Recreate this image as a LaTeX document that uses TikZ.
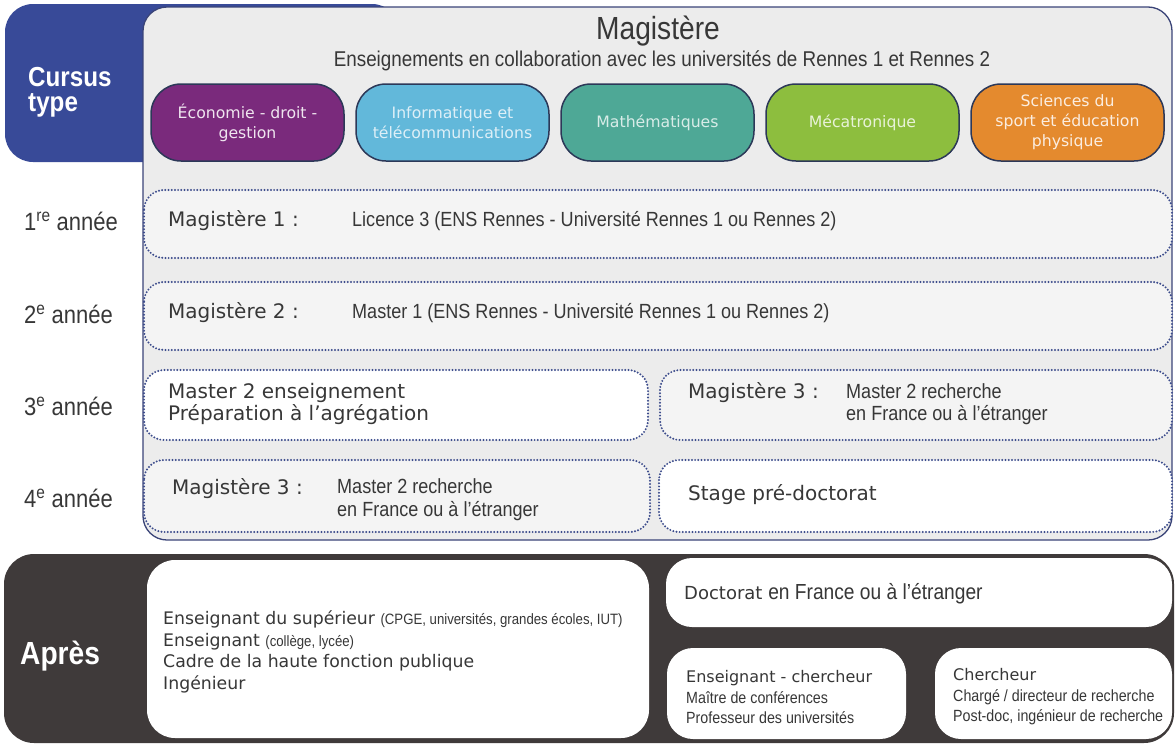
\documentclass[tikz,border=0pt]{standalone}
\usepackage{fontspec}
\setmainfont{DejaVu Sans}
\newfontfamily\condf[FakeStretch=0.88]{Liberation Sans}
\definecolor{cblue}{RGB}{56,74,152}
\definecolor{cnavy}{RGB}{58,68,120}
\definecolor{cgray}{RGB}{236,236,236}
\definecolor{crow}{RGB}{244,244,244}
\definecolor{cdot}{RGB}{60,76,140}
\definecolor{cpillb}{RGB}{44,56,88}
\definecolor{cpurple}{RGB}{122,42,124}
\definecolor{clblue}{RGB}{98,184,218}
\definecolor{cteal}{RGB}{78,168,150}
\definecolor{clime}{RGB}{141,190,62}
\definecolor{corange}{RGB}{228,138,46}
\definecolor{cdark}{RGB}{63,58,58}
\definecolor{ctext}{RGB}{55,55,55}
\tikzset{
  pill/.style={draw=cpillb, line width=1.5pt, rounded corners=30, minimum width=193, minimum height=77, align=center, inner sep=0pt, font=\fontsize{15.7}{20}\selectfont},
  dotbox/.style={draw=cdot, line width=2.2pt, dash pattern=on 0pt off 3.2pt, line cap=round, rounded corners=20},
  txt/.style={anchor=west, inner sep=0pt, text=ctext},
  yearlab/.style={txt, font=\condf\fontsize{25}{26}\selectfont},
  maglab/.style={txt, font=\fontsize{20}{22}\selectfont},
  condtxt/.style={txt, font=\condf\fontsize{20.5}{23}\selectfont, align=left},
  wbox/.style={fill=white, rounded corners=28},
}
\begin{document}
\begin{tikzpicture}[x=1pt,y=-1pt]
\useasboundingbox (0,0) rectangle (1175,744);
% blue tab
\fill[cblue, rounded corners=28] (5,4) rectangle (400,162);
\node[txt, text=white, align=left, font=\condf\bfseries\fontsize{27.5}{25}\selectfont] (cursus) at (28,92) {Cursus\\type};
% magistere box
\path[draw=cnavy, line width=1.3pt, fill=cgray, rounded corners=24] (143,7) rectangle (1172,540);
\node[text=ctext, inner sep=0pt, font=\condf\fontsize{32}{32}\selectfont] (title) at (658,31) {Magistère};
\node[text=ctext, inner sep=0pt, font=\condf\fontsize{21.4}{22}\selectfont] (subtitle) at (662,61) {Enseignements en collaboration avec les universités de Rennes 1 et Rennes 2};
% pills
\node[pill, fill=cpurple, text=white!88!cpurple] (eco) at (247.5,122.5) {Économie - droit -\\gestion};
\node[pill, fill=clblue, text=white!78!clblue] (info) at (452.5,122.5) {Informatique et\\télécommunications};
\node[pill, fill=cteal, text=white!78!cteal] (math) at (657.5,122.5) {Mathématiques};
\node[pill, fill=clime, text=white!80!clime] (meca) at (862.5,122.5) {Mécatronique};
\node[pill, fill=corange, text=white!85!corange] (sport) at (1067.5,122.5) {Sciences du\\sport et éducation\\physique};
% rows
\path[dotbox, fill=crow] (144,190) rectangle (1172,258);
\node[maglab] (m1) at (168,221) {Magistère 1 :};
\node[condtxt] (l1) at (352,221) {Licence 3 (ENS Rennes - Université Rennes 1 ou Rennes 2)};
\path[dotbox, fill=crow] (144,282) rectangle (1172,350);
\node[maglab] (m2) at (168,313) {Magistère 2 :};
\node[condtxt] (l2) at (352,313) {Master 1 (ENS Rennes - Université Rennes 1 ou Rennes 2)};
\path[dotbox, fill=white] (144,370) rectangle (648,440);
\node[maglab, align=left] (m2e) at (168,404) {Master 2 enseignement\\Préparation à l’agrégation};
\path[dotbox, fill=crow] (660,370) rectangle (1172,440);
\node[maglab] (m3a) at (688,393) {Magistère 3 :};
\node[condtxt, font=\condf\fontsize{20.5}{22}\selectfont] (l3a) at (846,404) {Master 2 recherche\\en France ou à l’étranger};
\path[dotbox, fill=crow] (144,460) rectangle (650,532);
\node[maglab] (m3b) at (172,489) {Magistère 3 :};
\node[condtxt] (l3b) at (337,500) {Master 2 recherche\\en France ou à l’étranger};
\path[dotbox, fill=white] (659,460) rectangle (1172,532);
\node[maglab] (stage) at (688,495) {Stage pré-doctorat};
% year labels
\node[yearlab] (y1) at (24,221) {1\textsuperscript{re} année};
\node[yearlab] (y2) at (24,314) {2\textsuperscript{e} année};
\node[yearlab] (y3) at (24,406) {3\textsuperscript{e} année};
\node[yearlab] (y4) at (24,498) {4\textsuperscript{e} année};
% apres
\fill[cdark, rounded corners=30] (4,554) rectangle (1174,743);
\node[txt, text=white, font=\condf\bfseries\fontsize{32}{32}\selectfont] (apres) at (20,656) {Après};
\fill[wbox] (147,560) rectangle (649,738);
\node[txt, align=left, font=\fontsize{17.3}{21.5}\selectfont] (jobs) at (163,652) {Enseignant du supérieur {\condf\fontsize{15}{15}\selectfont (CPGE, universités, grandes écoles, IUT)}\\Enseignant {\condf\fontsize{15}{15}\selectfont (collège, lycée)}\\Cadre de la haute fonction publique\\Ingénieur};
\fill[wbox, rounded corners=26] (666,558) rectangle (1172,627);
\node[txt, font=\fontsize{18}{20}\selectfont] (doct) at (684,594) {Doctorat {\condf\fontsize{21.8}{22}\selectfont en France ou à l’étranger}};
\fill[wbox, rounded corners=26] (667,648) rectangle (906,739);
\node[txt, align=left, font=\condf\fontsize{16.2}{20.5}\selectfont] (ec) at (686,697) {{\fontspec{DejaVu Sans}\fontsize{16}{20}\selectfont Enseignant - chercheur}\\Maître de conférences\\Professeur des universités};
\fill[wbox, rounded corners=26] (935,648) rectangle (1172,739);
\node[txt, align=left, font=\condf\fontsize{16.2}{20.5}\selectfont] (ch) at (953,697) {{\fontspec{DejaVu Sans}\fontsize{16}{20}\selectfont Chercheur}\\Chargé / directeur de recherche\\Post-doc, ingénieur de recherche};
\end{tikzpicture}
\end{document}
